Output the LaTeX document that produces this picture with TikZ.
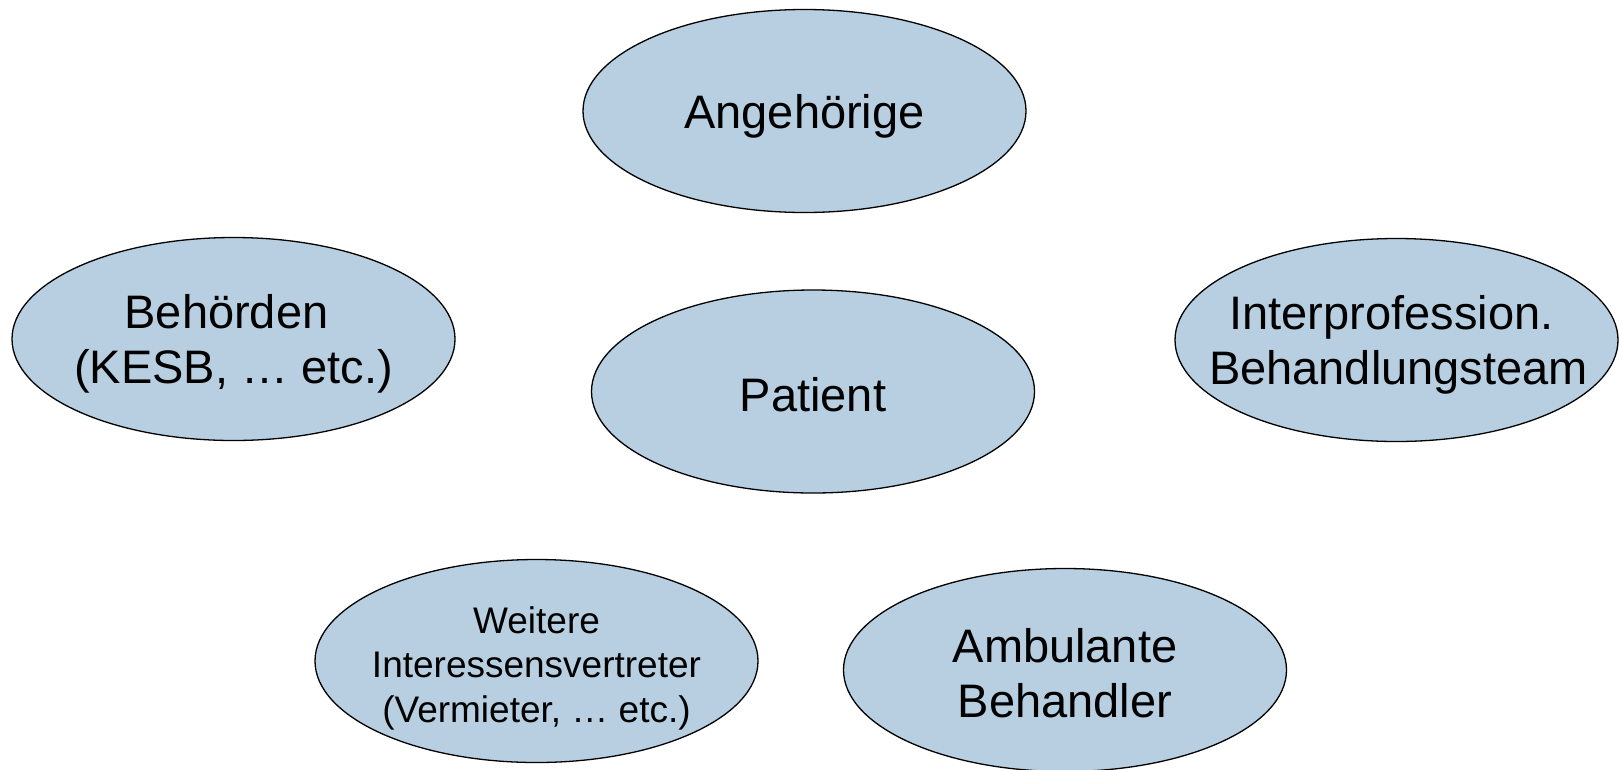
\documentclass[tikz,border=0pt]{standalone}
\usepackage{fontspec}
\setmainfont{Liberation Sans}
\usetikzlibrary{shapes.geometric}
\definecolor{bubblefill}{HTML}{B7CFE1}
\tikzset{
  bubble/.style={ellipse, draw=black, line width=1.3pt, fill=bubblefill,
    minimum width=443pt, minimum height=203pt, inner sep=0pt},
  bigtext/.style={inner sep=0pt, align=center, yshift=-5pt,
    font=\fontsize{47}{55}\selectfont},
  smalltext/.style={inner sep=0pt, align=center, yshift=-7pt,
    font=\fontsize{37}{44.5}\selectfont}
}
\begin{document}
\begin{tikzpicture}[x=1pt,y=-1pt]
\useasboundingbox (0,0) rectangle (1619,769);
\node[bubble] (ang) at (804.5,111) {};
\node[bubble] (beh) at (233.5,339) {};
\node[bubble] (pat) at (813,391.5) {};
\node[bubble] (int) at (1396.5,340) {};
\node[bubble] (wei) at (536.5,661) {};
\node[bubble] (amb) at (1065,670) {};
\node[bigtext] (angT) at (ang.center) {Angehörige};
\node[bigtext] (behT) at (beh.center) {Behörden\hspace*{0.3em}\\(KESB, … etc.)};
\node[bigtext, yshift=2pt] (patT) at (pat.center) {Patient};
\node[bigtext, xshift=2pt] (intT) at (int.center) {Interprofession.\hspace*{0.3em}\\Behandlungsteam};
\node[smalltext] (weiT) at (wei.center) {Weitere\\Interessensvertreter\\(Vermieter, … etc.)};
\node[bigtext, yshift=2pt] (ambT) at (amb.center) {Ambulante\\Behandler};
\end{tikzpicture}
\end{document}
